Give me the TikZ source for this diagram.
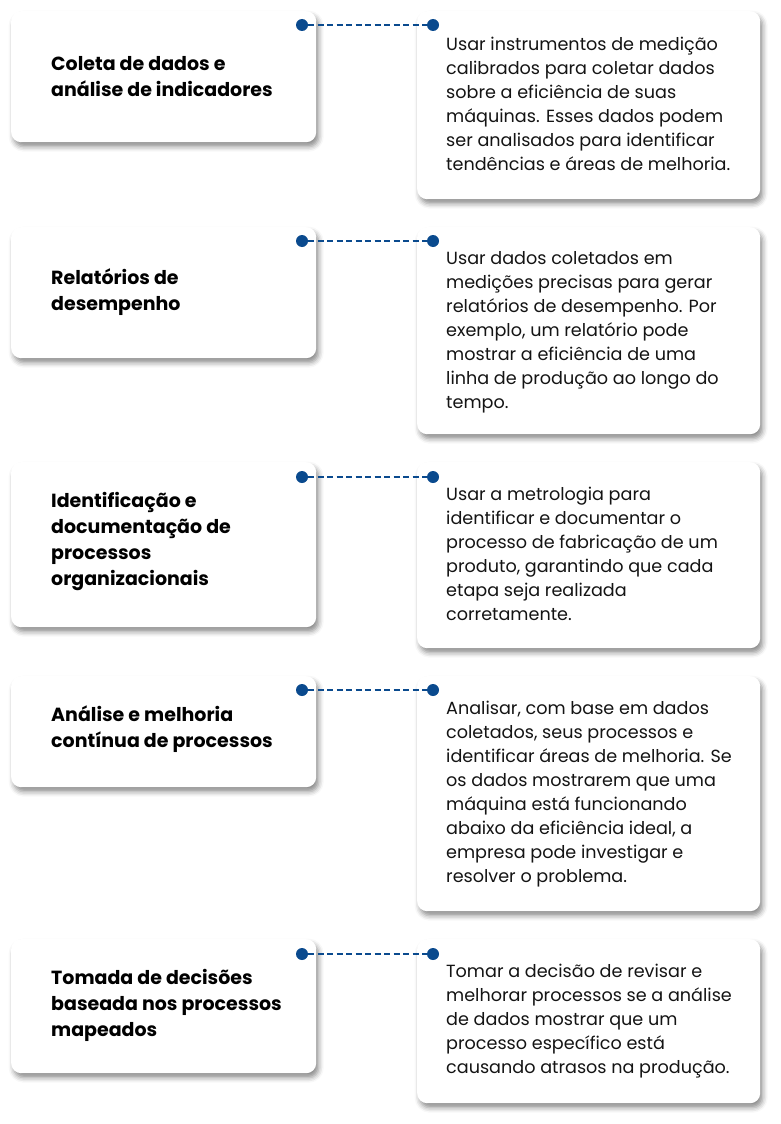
\documentclass[tikz,border=0pt]{standalone}
\usepackage{fontspec}
\setmainfont{Poppins}
\usetikzlibrary{shadows.blur}
\definecolor{dotblue}{HTML}{0A4A8E}
\definecolor{txt}{HTML}{141414}
\tikzset{
  card/.style={draw=none, fill=white, rounded corners=10pt, anchor=north west, inner sep=0pt,
    blur shadow={shadow xshift=2.5pt, shadow yshift=-4.5pt, shadow blur radius=5pt, shadow opacity=45}},
  ltext/.style={anchor=west, align=left, inner sep=0pt, text=black,
    font=\fontsize{19}{26}\selectfont\bfseries},
  rtext/.style={anchor=north west, align=left, inner sep=0pt, text=txt,
    font=\fontsize{17.6}{24}\selectfont},
  dotc/.style={circle, fill=dotblue, inner sep=0pt, minimum size=12pt},
  link/.style={draw=dotblue, line width=1.5pt, dash pattern=on 6pt off 3.5pt},
}
\begin{document}
\begin{tikzpicture}[x=1pt,y=-1pt]
\useasboundingbox (0,0) rectangle (781,1124);
% row 1
\node[card, minimum width=305pt, minimum height=131pt] (L1) at (11,11) {};
\node[card, minimum width=343pt, minimum height=188pt] (R1) at (417,11) {};
\node[ltext] (LT1) at (51,76.5) {Coleta de dados e\\análise de indicadores};
\node[rtext] (RT1) at (446,36.5) {Usar instrumentos de medição\\calibrados para coletar dados\\sobre a eficiência de suas\\máquinas. Esses dados podem\\ser analisados para identificar\\tendências e áreas de melhoria.};
\node[dotc] (A1) at (302,25) {};
\node[dotc] (B1) at (433,25) {};
\draw[link] (A1) -- (B1);
% row 2
\node[card, minimum width=305pt, minimum height=131pt] (L2) at (11,227) {};
\node[card, minimum width=343pt, minimum height=207pt] (R2) at (417,227) {};
\node[ltext] (LT2) at (51,292) {Relatórios de\\desempenho};
\node[rtext] (RT2) at (446,251.5) {Usar dados coletados em\\medições precisas para gerar\\relatórios de desempenho. Por\\exemplo, um relatório pode\\mostrar a eficiência de uma\\linha de produção ao longo do\\tempo.};
\node[dotc] (A2) at (302,241) {};
\node[dotc] (B2) at (433,241) {};
\draw[link] (A2) -- (B2);
% row 3
\node[card, minimum width=305pt, minimum height=165pt] (L3) at (11,462) {};
\node[card, minimum width=343pt, minimum height=186pt] (R3) at (417,462) {};
\node[ltext] (LT3) at (51,541) {Identificação e\\documentação de\\processos\\organizacionais};
\node[rtext] (RT3) at (446,486.5) {Usar a metrologia para\\identificar e documentar o\\processo de fabricação de um\\produto, garantindo que cada\\etapa seja realizada\\corretamente.};
\node[dotc] (A3) at (302,477) {};
\node[dotc] (B3) at (433,477) {};
\draw[link] (A3) -- (B3);
% row 4
\node[card, minimum width=305pt, minimum height=111pt] (L4) at (11,676) {};
\node[card, minimum width=343pt, minimum height=235pt] (R4) at (417,676) {};
\node[ltext] (LT4) at (51,729) {Análise e melhoria\\contínua de processos};
\node[rtext] (RT4) at (446,700.5) {Analisar, com base em dados\\coletados, seus processos e\\identificar áreas de melhoria. Se\\os dados mostrarem que uma\\máquina está funcionando\\abaixo da eficiência ideal, a\\empresa pode investigar e\\resolver o problema.};
\node[dotc] (A4) at (302,690) {};
\node[dotc] (B4) at (433,690) {};
\draw[link] (A4) -- (B4);
% row 5
\node[card, minimum width=305pt, minimum height=134pt] (L5) at (11,939) {};
\node[card, minimum width=343pt, minimum height=164pt] (R5) at (417,939) {};
\node[ltext] (LT5) at (51,1005) {Tomada de decisões\\baseada nos processos\\mapeados};
\node[rtext] (RT5) at (446,963.5) {Tomar a decisão de revisar e\\melhorar processos se a análise\\de dados mostrar que um\\processo específico está\\causando atrasos na produção.};
\node[dotc] (A5) at (302,954) {};
\node[dotc] (B5) at (433,954) {};
\draw[link] (A5) -- (B5);
\end{tikzpicture}
\end{document}
